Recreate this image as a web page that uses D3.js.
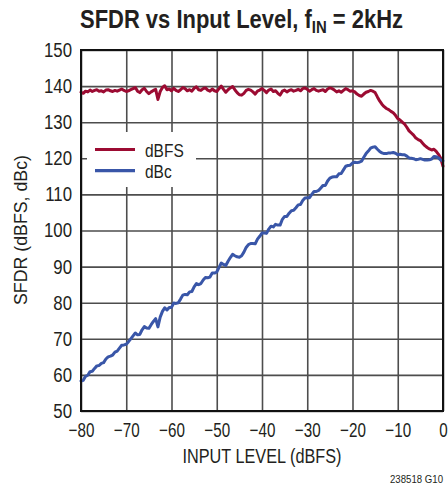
<!DOCTYPE html>
<html><head><meta charset="utf-8">
<script src="https://cdn.jsdelivr.net/npm/d3@7"></script>
<style>
body{margin:0;background:#fff}
svg{display:block}
text{font-family:"Liberation Sans",Arial,sans-serif;fill:#231f20}
</style>
</head><body>
<svg id="c" width="448" height="487"></svg>
<script>
const inputLevel = [-80,-79.5,-79,-78.5,-78,-77.5,-77,-76.5,-76,-75.5,-75,-74.5,-74,-73.5,-73,-72.5,-72,-71.5,-71,-70.5,
-70,-69.5,-69,-68.5,-68,-67.5,-67,-66.5,-66,-65.5,-65,-64.5,-64,-63.5,-63,-62.5,-62,-61.5,-61,-60.5,
-60,-59.5,-59,-58.5,-58,-57.5,-57,-56.5,-56,-55.5,-55,-54.5,-54,-53.5,-53,-52.5,-52,-51.5,-51,-50.5,
-50,-49.5,-49,-48.5,-48,-47.5,-47,-46.5,-46,-45.5,-45,-44.5,-44,-43.5,-43,-42.5,-42,-41.5,-41,-40.5,
-40,-39.5,-39,-38.5,-38,-37.5,-37,-36.5,-36,-35.5,-35,-34.5,-34,-33.5,-33,-32.5,-32,-31.5,-31,-30.5,
-30,-29.5,-29,-28.5,-28,-27.5,-27,-26.5,-26,-25.5,-25,-24.5,-24,-23.5,-23,-22.5,-22,-21.5,-21,-20.5,
-20,-19.5,-19,-18.5,-18,-17.5,-17,-16.5,-16,-15.5,-15,-14.5,-14,-13.5,-13,-12.5,-12,-11.5,-11,-10.5,
-10,-9.5,-9,-8.5,-8,-7.5,-7,-6.5,-6,-5.5,-5,-4.5,-4,-3.5,-3,-2.5,-2,-1.5,-1,-0.5,0];

const sfdrDBFS = [138.3,138.0,138.6,138.4,138.9,138.5,138.8,139.0,138.6,138.7,138.4,138.9,139.0,138.7,138.5,138.8,138.6,138.9,139.2,138.8,
138.5,138.7,139.0,139.3,139.6,138.6,138.2,139.0,139.4,138.5,137.9,138.4,138.8,139.1,136.3,138.5,139.6,140.1,139.0,139.2,
138.7,139.4,138.8,138.5,139.0,139.6,139.3,138.7,139.0,138.6,139.4,139.8,139.0,138.8,139.3,139.5,138.9,138.6,139.2,138.7,
138.5,139.3,140.0,139.1,138.3,139.0,139.5,139.9,139.0,138.2,137.6,137.5,138.0,138.8,139.1,138.9,138.4,137.8,138.6,138.9,
139.3,138.8,138.2,138.9,139.2,138.5,138.7,138.0,137.5,138.6,138.9,138.4,138.8,139.0,138.6,138.8,139.1,138.7,139.3,139.5,
139.1,138.6,139.0,139.3,138.8,138.6,138.8,139.0,138.5,139.2,139.5,139.3,138.9,138.4,138.7,138.3,138.8,139.3,139.0,138.6,
138.7,138.4,137.8,137.4,137.2,137.8,138.3,138.5,138.8,138.6,138.2,137.0,135.9,135.0,134.3,133.8,133.5,133.0,132.6,131.9,
131.0,130.6,130.0,129.5,128.6,127.6,127.0,126.4,125.6,125.2,124.9,124.2,123.5,123.0,122.6,122.3,122.5,121.9,121.1,120.0,117.8];

const sfdrDBc = [58.3,58.5,59.6,59.9,60.9,61.0,61.8,62.5,62.6,63.2,63.4,64.4,65.0,65.2,65.5,66.3,66.6,67.4,68.2,68.3,
68.5,69.2,70.0,70.8,71.6,71.1,71.2,72.5,73.4,73.0,72.9,73.9,74.8,75.6,73.3,76.0,77.6,78.6,78.0,78.7,
78.7,79.9,79.8,80.0,81.0,82.1,82.3,82.2,83.0,83.1,84.4,85.3,85.0,85.3,86.3,87.0,86.9,87.1,88.2,88.2,
88.5,89.8,91.0,90.6,90.3,91.5,92.5,93.4,93.0,92.7,92.6,93.0,94.0,95.3,96.1,96.4,96.4,96.3,97.6,98.4,
99.3,99.3,99.2,100.4,101.2,101.0,101.7,101.5,101.5,103.1,103.9,103.9,104.8,105.5,105.6,106.3,107.1,107.2,108.3,109.0,
109.1,109.1,110.0,110.8,110.8,111.1,111.8,112.5,112.5,113.7,114.5,114.8,114.9,114.9,115.7,115.8,116.8,117.8,118.0,118.1,
118.7,118.9,118.8,118.9,119.2,120.3,121.3,122.0,122.8,123.1,123.2,122.5,121.9,121.5,121.3,121.3,121.5,121.5,121.6,121.4,
121.0,121.1,121.0,121.0,120.6,120.1,120.0,119.9,119.6,119.7,119.9,119.7,119.5,119.5,119.6,119.8,120.5,120.4,120.1,119.5,119.3];

const xTicks = [-80,-70,-60,-50,-40,-30,-20,-10,0];
const yTicks = [50,60,70,80,90,100,110,120,130,140,150];
const seriesNames = ["dBFS","dBc"];
const seriesColors = ["#9c0b32","#3956a8"];

const svg = d3.select("#c");
const L = 81, R = 443, T = 50, B = 411;
const x = d3.scaleLinear().domain([-80,0]).range([L,R]);
const y = d3.scaleLinear().domain([50,150]).range([B,T]);

function squeeze(sel, k, fixed) {
  sel.each(function(){
    const w = fixed != null ? fixed : this.getComputedTextLength()*k;
    this.setAttribute("textLength", w);
    this.setAttribute("lengthAdjust","spacingAndGlyphs");
  });
}

// grid
const gx = svg.append("g").attr("transform",`translate(0,${B})`)
  .call(d3.axisBottom(x).tickValues(xTicks).tickSize(-(B-T)).tickFormat(""));
const gy = svg.append("g").attr("transform",`translate(${L},0)`)
  .call(d3.axisLeft(y).tickValues(yTicks).tickSize(-(R-L)).tickFormat(""));
[gx,gy].forEach(g=>{
  g.select(".domain").remove();
  g.selectAll("line").attr("stroke","#4d4d4d").attr("stroke-width",1.6);
});

// lines
const line = d3.line().x((d,i)=>x(inputLevel[i])).y(d=>y(d));
[sfdrDBFS, sfdrDBc].forEach((s,k)=>{
  svg.append("path").datum(s).attr("d",line)
    .attr("fill","none").attr("stroke",seriesColors[k]).attr("stroke-width",3)
    .attr("stroke-linejoin","round").attr("stroke-linecap","round");
});

// legend box
svg.append("rect").attr("x",87).attr("y",132).attr("width",109).attr("height",55).attr("fill","#fff");
const legY = [149.5, 170.7];
seriesNames.forEach((n,k)=>{
  svg.append("line").attr("x1",95).attr("x2",135).attr("y1",legY[k]).attr("y2",legY[k])
    .attr("stroke",seriesColors[k]).attr("stroke-width",3.2);
  const tx = svg.append("text").attr("x",145).attr("y",legY[k]+7.5).attr("font-size",18).text(n);
  squeeze(tx, 0.86);
});

// frame
svg.append("rect").attr("x",L).attr("y",T).attr("width",R-L).attr("height",B-T)
  .attr("fill","none").attr("stroke","#111").attr("stroke-width",2);

// tick labels
const ax = svg.append("g").attr("transform",`translate(0,${B})`)
  .call(d3.axisBottom(x).tickValues(xTicks).tickSize(0).tickPadding(12)
    .tickFormat(d=> d<0 ? "\u2212"+Math.abs(d) : String(d)));
const ay = svg.append("g").attr("transform",`translate(${L},0)`)
  .call(d3.axisLeft(y).tickValues(yTicks).tickSize(0).tickPadding(9));
[ax,ay].forEach(g=>{
  g.select(".domain").remove();
  g.attr("font-family",null).attr("font-size",null);
  g.selectAll("text").attr("font-size",20).attr("fill","#231f20");
});
squeeze(ay.selectAll("text"), 0.84);
squeeze(ax.selectAll("text"), 0.76);

// axis titles
const xt = svg.append("text").attr("x",262).attr("y",463).attr("text-anchor","middle").attr("font-size",20)
  .text("INPUT LEVEL (dBFS)");
squeeze(xt, null, 159);
const yt = svg.append("text").attr("transform","translate(27,230) rotate(-90)").attr("text-anchor","middle")
  .attr("font-size",19).text("SFDR (dBFS, dBc)");
squeeze(yt, null, 150);

// title
const t = svg.append("text").attr("x",241.5).attr("y",28).attr("text-anchor","middle")
  .attr("font-size",25).attr("font-weight","bold");
t.append("tspan").text("SFDR vs Input Level, f");
t.append("tspan").attr("font-size",17).attr("dy",5).text("IN");
t.append("tspan").attr("dy",-5).text(" = 2kHz");
squeeze(t, null, 323);

// figure code
const fc = svg.append("text").attr("x",443).attr("y",483).attr("text-anchor","end").attr("font-size",11.5)
  .text("238518 G10");
squeeze(fc, null, 53);
</script>
</body></html>
